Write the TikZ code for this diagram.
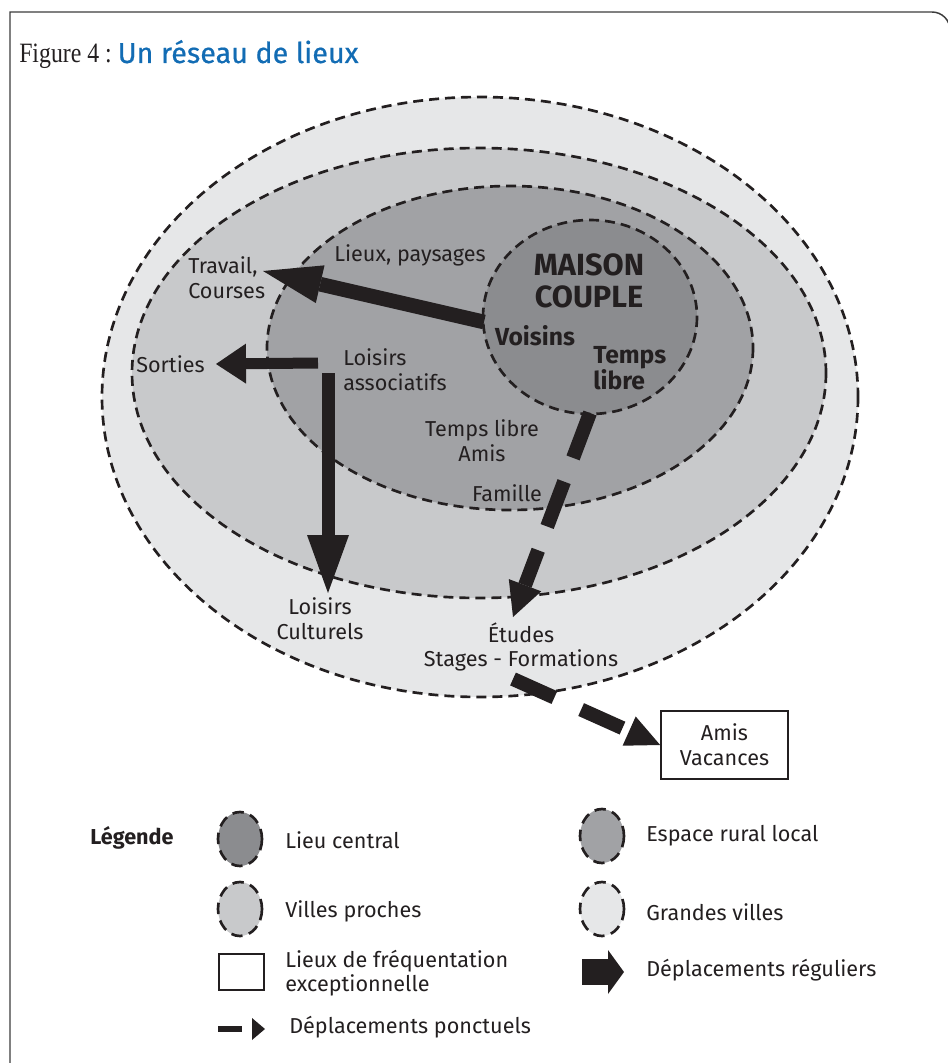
\documentclass[tikz,border=0pt]{standalone}
\usepackage{fontspec}
\setmainfont{Fira Sans}
\newfontfamily\figserif[FakeStretch=0.85]{Liberation Serif}
\newfontfamily\titrefont[FakeBold=0.6]{Fira Sans}
\usetikzlibrary{arrows.meta}

\definecolor{encre}{RGB}{35,31,32}
\definecolor{cadre}{RGB}{60,60,60}
\definecolor{titrebleu}{RGB}{18,108,180}
\definecolor{lieucentral}{RGB}{139,140,143}
\definecolor{espacerural}{RGB}{161,162,165}
\definecolor{villesproches}{RGB}{200,201,203}
\definecolor{grandesvilles}{RGB}{230,231,232}

\tikzset{
  zone/.style={draw=encre, line width=2pt, dash pattern=on 7.5pt off 4.5pt},
  petitezone/.style={draw=encre, line width=2pt, dash pattern=on 8.5pt off 5pt},
  txt/.style={inner sep=0.75pt, text=encre, font=\fontsize{16.2}{18.5}\selectfont},
  gras/.style={inner sep=0.75pt, text=encre, font=\bfseries\fontsize{18.5}{20}\selectfont},
  regulier/.style={draw=encre, line cap=butt},
  ponctuel/.style={draw=encre, line width=10.5pt, line cap=butt},
}

\begin{document}
\begin{tikzpicture}[x=0.75pt,y=0.75pt,yscale=-1,xscale=1]
\useasboundingbox (0,0) rectangle (948,1063);

%Frame
\draw [color=cadre, line width=1.1pt] (10,1063) -- (10,12) -- (932,12) arc [start angle=-90, end angle=0, radius=18] -- (950,1063);

% Title
\node (fig) at (19,63) [anchor=base west, inner sep=0pt, text=encre, font=\figserif\fontsize{21}{23}\selectfont] {Figure 4 :};
\node (titre) at (fig.base east) [anchor=base west, inner sep=0pt, xshift=4pt, text=titrebleu, font=\titrefont\fontsize{21.5}{24}\selectfont] {Un réseau de lieux};

%Zones
\draw [zone, fill=grandesvilles] (480,397) ellipse [x radius=378, y radius=300];
\draw [zone, fill=villesproches] (479,373) ellipse [x radius=347, y radius=225];
\draw [zone, fill=espacerural] (510,348) ellipse [x radius=243, y radius=162];
\draw [zone, fill=lieucentral] (590,317) ellipse [x radius=107, y radius=97];

% Text Node
\node (lieux) at (410,255) [txt] {Lieux, paysages};
% Text Node
\node (travail) at (187,278) [txt, anchor=west, align=left] {Travail,\\Courses};
% Text Node
\node (sorties) at (135,364) [txt, anchor=west] {Sorties};
% Text Node
\node (loisirsA) at (342,370) [txt, anchor=west, align=left] {Loisirs\\associatifs};
% Text Node
\node (maison) at (589,281) [gras, font=\bfseries\fontsize{23}{24}\selectfont, align=center] {MAISON\\COUPLE};
% Text Node
\node (voisins) at (535,336) [gras] {Voisins};
% Text Node
\node (temps) at (592,368) [gras, anchor=west, align=left] {Temps\\libre};
% Text Node
\node (tempsAmis) at (482,441) [txt, align=center] {Temps libre\\Amis};
% Text Node
\node (famille) at (507,493) [txt] {Famille};
% Text Node
\node (loisirsC) at (320,619) [txt, align=center] {Loisirs\\Culturels};
% Text Node
\node (etudes) at (521,647) [txt, align=center] {Études\\Stages - Formations};
% Text Node
\node (amis) at (724.5,745) [txt, align=center, draw=encre, line width=1.5pt, minimum width=95pt, minimum height=51pt] {Amis\\Vacances};

% Arrow ends
\coordinate (mOuest) at (484,322);
\coordinate (mSud) at (590,413);
\coordinate (aOuest) at (318,363);
\coordinate (aSud) at (328,373);
\coordinate (pTravail) at (263,271);
\coordinate (pSorties) at (216,364);
\coordinate (pCulturels) at (328,593);
\coordinate (pEtudes) at (513,617);
\coordinate (eSud) at (513,679);

%Regular moves
\draw [regulier, line width=11pt, -{Triangle[length=44pt, width=29pt, line width=0pt]}] (mOuest) -- (pTravail);
\draw [regulier, line width=8.25pt, -{Triangle[length=22.5pt, width=30pt, line width=0pt]}] (aOuest) -- (pSorties);
\draw [regulier, line width=9.75pt, -{Triangle[length=43.5pt, width=31.5pt, line width=0pt]}] (aSud) -- (pCulturels);

%Occasional moves
\draw [ponctuel, dash pattern=on 36pt off 19pt, -{Triangle[length=25.5pt, width=26pt, line width=0pt]}] (mSud) -- (pEtudes);
\draw [ponctuel, dash pattern=on 34pt off 22pt, -{Triangle[length=25.5pt, width=24pt, line width=0pt]}] (eSud) -- (amis.west);

%Legend
\node (legende) at (132,838) [txt, font=\bfseries\fontsize{16.2}{18.5}\selectfont] {Légende};

\draw [petitezone, fill=lieucentral] (240,839) ellipse [x radius=22, y radius=27];
\node (lCentral) at (284,840) [txt, anchor=west] {Lieu central};

\draw [petitezone, fill=espacerural] (602,836) ellipse [x radius=22, y radius=27];
\node (lRural) at (645,836) [txt, anchor=west] {Espace rural local};

\draw [petitezone, fill=villesproches] (240,909) ellipse [x radius=22, y radius=27];
\node (lProches) at (284,911) [txt, anchor=west] {Villes proches};

\draw [petitezone, fill=grandesvilles] (602,909) ellipse [x radius=22, y radius=27];
\node (lGrandes) at (645,912) [txt, anchor=west] {Grandes villes};

\draw [encre, line width=1.5pt] (219,954) rectangle (264,990);
\node (lExcep) at (284,973) [txt, anchor=west, align=left] {Lieux de fréquentation\\exceptionnelle};

\coordinate (rDebut) at (582,972);
\coordinate (rFin) at (624,972);
\draw [regulier, line width=20pt, -{Triangle[length=12pt, width=33pt, line width=0pt]}] (rDebut) -- (rFin);
\node (lRegulier) at (645,970) [txt, anchor=west] {Déplacements réguliers};

\coordinate (pDebut) at (218,1029);
\coordinate (pFin) at (265,1029);
\draw [regulier, line width=5pt, dash pattern=on 18pt off 7.5pt, -{Triangle[length=9.75pt, width=16.5pt, line width=0pt]}] (pDebut) -- (pFin);
\node (lPonctuel) at (288,1027) [txt, anchor=west] {Déplacements ponctuels};

\end{tikzpicture}
\end{document}
